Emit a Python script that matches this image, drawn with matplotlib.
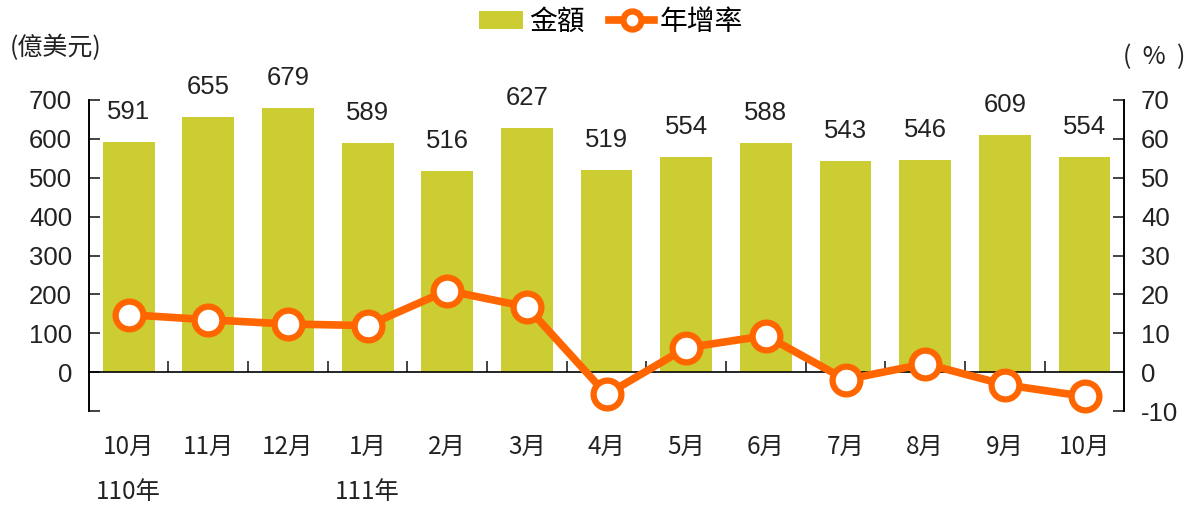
import matplotlib
matplotlib.use("Agg")
import matplotlib.pyplot as plt
import matplotlib.transforms as mtransforms
import numpy as np
from matplotlib.lines import Line2D
from matplotlib.patches import Patch

# data
months = ["10月", "11月", "12月", "1月", "2月", "3月", "4月",
          "5月", "6月", "7月", "8月", "9月", "10月"]
year_labels = {0: "110年", 3: "111年"}
amount = [591, 655, 679, 589, 516, 627, 519, 554, 588, 543, 546, 609, 554]
growth = [14.8, 13.5, 12.4, 12.0, 21.0, 16.8, -5.7, 6.3, 9.4, -1.9, 2.2, -3.2, -6.2]

BAR_COLOR = "#CCCC33"
LINE_COLOR = "#FF6600"
NUM_FONT = ["Liberation Sans", "DejaVu Sans"]
CJK_FONT = ["Noto Sans CJK TC", "DejaVu Sans"]

fig = plt.figure(figsize=(12, 5.07), dpi=100)
ax = fig.add_axes([0.074, 0.189, 0.863, 0.614])
ax2 = ax.twinx()

x = np.arange(len(months))
ax.bar(x, amount, width=0.65, color=BAR_COLOR, zorder=2)
for xi, v in zip(x, amount):
    ax.annotate(f"{v}", (xi, v), xytext=(0, 13), textcoords="offset points",
                ha="center", va="bottom", fontsize=18.5, family=NUM_FONT,
                color="#222222")

ax2.plot(x, growth, color=LINE_COLOR, lw=5.5, marker="o", ms=20,
         mfc="white", mec=LINE_COLOR, mew=4.5, zorder=5, clip_on=False)

ax.set_xlim(-0.5, len(months) - 0.5)
ax.set_ylim(-100, 700)
ax2.set_ylim(-10, 70)
ax.set_zorder(ax2.get_zorder() - 1)
ax2.patch.set_visible(False)

# left axis: ticks -100..700, labels only 0..700
ax.set_yticks(range(-100, 701, 100))
ax.set_yticklabels([""] + [str(v) for v in range(0, 701, 100)],
                   fontsize=18.5, family=NUM_FONT)
ax2.set_yticks(range(-10, 71, 10))
ax2.set_yticklabels([str(v) for v in range(-10, 71, 10)],
                    fontsize=18.5, family=NUM_FONT)
ax.tick_params(axis="y", direction="in", length=8, width=1.2, pad=12,
               colors="#222222")
ax2.tick_params(axis="y", direction="in", length=8, width=1.2, pad=12,
                colors="#222222")

for a in (ax, ax2):
    a.spines["top"].set_visible(False)
    a.spines["left"].set_linewidth(1.2)
    a.spines["right"].set_linewidth(1.2)
ax2.spines["bottom"].set_visible(False)

# x axis sits on zero line, ticks at category boundaries pointing up
ax.spines["bottom"].set_position(("data", 0))
ax.spines["bottom"].set_linewidth(1.2)
ax.spines["bottom"].set_zorder(3)
ax.set_xticks(np.arange(0.5, len(months) - 1, 1.0))
ax.set_xticklabels([])
ax.tick_params(axis="x", direction="in", length=8, width=1.2, colors="#222222")

trans = mtransforms.blended_transform_factory(ax.transData, fig.transFigure)
for xi, m in zip(x, months):
    ax.text(xi, 0.118, m, transform=trans, ha="center", va="center",
            fontsize=17.5, family=CJK_FONT, color="#222222")
for xi, yl in year_labels.items():
    ax.text(xi, 0.03, yl, transform=trans, ha="center", va="center",
            fontsize=17.5, family=CJK_FONT, color="#222222")

fig.text(0.008, 0.905, "(億美元)", fontsize=18, family=CJK_FONT,
         ha="left", va="center", color="#222222")
fig.text(0.962, 0.888, "(  %  )", fontsize=18, family=CJK_FONT,
         ha="center", va="center", color="#222222")

handles = [Patch(facecolor=BAR_COLOR, edgecolor="none"),
           Line2D([0], [0], color=LINE_COLOR, lw=5.5, marker="o", ms=13,
                  mfc="white", mec=LINE_COLOR, mew=4.5)]
fig.legend(handles, ["金額", "年增率"], loc="center", bbox_to_anchor=(0.509, 0.957),
           ncol=2, frameon=False, prop={"family": CJK_FONT, "size": 20},
           handlelength=1.6, handleheight=0.65, handletextpad=0.2,
           columnspacing=0.9)

fig.savefig("out.png", dpi=100)
